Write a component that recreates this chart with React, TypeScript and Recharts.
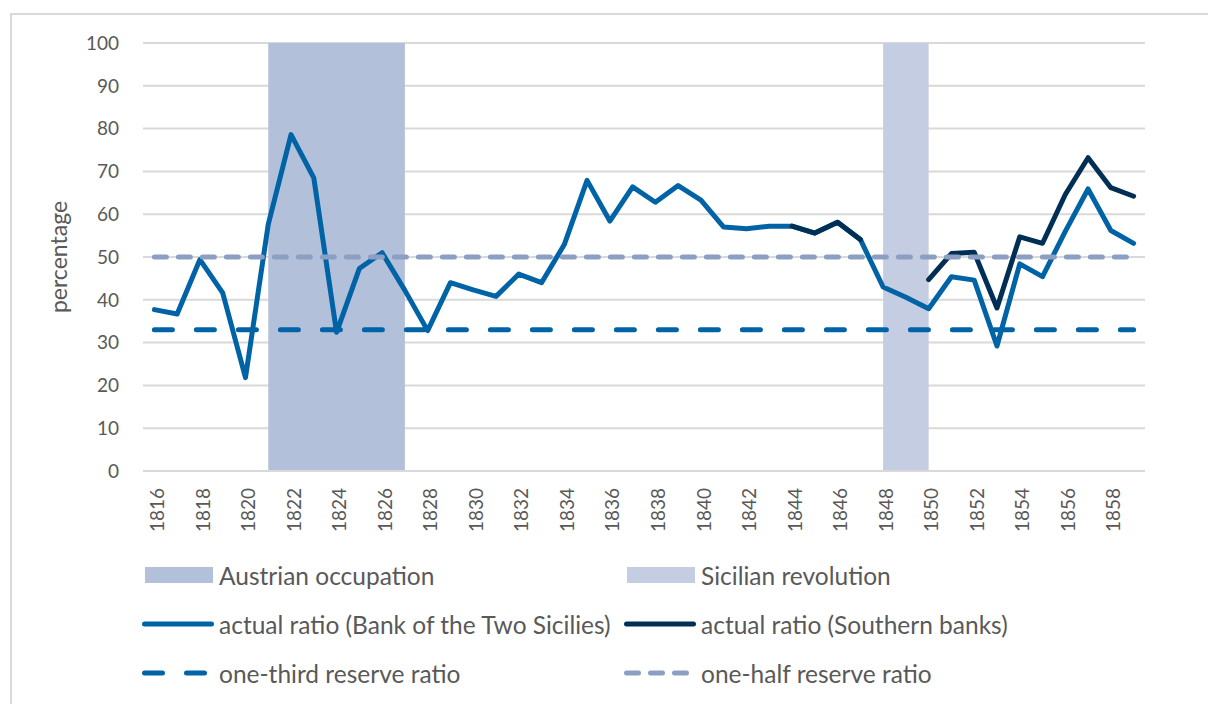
import { CartesianGrid, Label, Line, LineChart, ReferenceArea, XAxis, YAxis } from "recharts";

const years = [
  1816, 1817, 1818, 1819, 1820, 1821, 1822, 1823, 1824, 1825, 1826, 1827, 1828, 1829, 1830,
  1831, 1832, 1833, 1834, 1835, 1836, 1837, 1838, 1839, 1840, 1841, 1842, 1843, 1844, 1845,
  1846, 1847, 1848, 1849, 1850, 1851, 1852, 1853, 1854, 1855, 1856, 1857, 1858, 1859,
];

// actual reserve ratio, Bank of the Two Sicilies (%)
const bankRatio = [
  37.7, 36.7, 49.4, 41.6, 21.8, 57.6, 78.6, 68.5, 32.4, 47.3, 51.0, 42.2, 32.8, 44.0, 42.3,
  40.8, 46.0, 44.0, 52.9, 67.9, 58.4, 66.4, 62.8, 66.7, 63.3, 57.0, 56.6, 57.2, 57.2, 55.6,
  58.1, 54.1, 43.0, 40.6, 37.9, 45.4, 44.6, 29.2, 48.4, 45.4, 56.0, 65.9, 56.2, 53.2,
];

// actual reserve ratio, Southern banks (%)
const southernYears = [1844, 1845, 1846, 1847, 1850, 1851, 1852, 1853, 1854, 1855, 1856, 1857, 1858, 1859];
const southernRatio = [57.2, 55.6, 58.1, 54.1, 44.7, 50.8, 51.1, 38.1, 54.7, 53.2, 64.6, 73.2, 66.2, 64.2];

const oneThirdRatio = 33;
const oneHalfRatio = 50;

const austrianOccupation = [1821, 1827];
const sicilianRevolution = [1848, 1850];

const yearTicks = [
  1816, 1818, 1820, 1822, 1824, 1826, 1828, 1830, 1832, 1834, 1836, 1838, 1840, 1842, 1844,
  1846, 1848, 1850, 1852, 1854, 1856, 1858,
];
const percentTicks = [0, 10, 20, 30, 40, 50, 60, 70, 80, 90, 100];

const BLUE = "#0063a6";
const NAVY = "#002f56";
const HALF = "#8c9fc3";
const AUSTRIA = "#b3c0da";
const SICILY = "#c4cde1";
const GRID = "#d9d9d9";
const TEXT = "#595959";
const FONT = "Lato, 'Source Sans Pro', sans-serif";

const rows = years.map((year, i) => {
  const j = southernYears.indexOf(year);
  return {
    year,
    bank: bankRatio[i],
    southern: j >= 0 ? southernRatio[j] : null,
    third: oneThirdRatio,
    half: oneHalfRatio,
  };
});

type LegendItem = { label: string; kind: "area" | "line" | "dash"; color: string; dash?: string };

const legendItems: LegendItem[] = [
  { label: "Austrian occupation", kind: "area", color: AUSTRIA },
  { label: "Sicilian revolution", kind: "area", color: SICILY },
  { label: "actual ratio (Bank of the Two Sicilies)", kind: "line", color: BLUE },
  { label: "actual ratio (Southern banks)", kind: "line", color: NAVY },
  { label: "one-third reserve ratio", kind: "dash", color: BLUE, dash: "18 24" },
  { label: "one-half reserve ratio", kind: "dash", color: HALF, dash: "12 12" },
];

function YearTick({ x, y, payload }: any) {
  return (
    <text
      transform={`translate(${x + 3},${y + 9}) rotate(-90)`}
      textAnchor="end"
      dy="0.35em"
      fill={TEXT}
      fontSize={19}
      fontFamily={FONT}
    >
      {payload.value}
    </text>
  );
}

function Swatch({ item }: { item: LegendItem }) {
  return (
    <svg width={74} height={20} style={{ display: "block" }}>
      {item.kind === "area" ? (
        <rect x={4} y={2} width={68} height={16} fill={item.color} />
      ) : (
        <line
          x1={3.5}
          x2={70.5}
          y1={10}
          y2={10}
          stroke={item.color}
          strokeWidth={5}
          strokeLinecap="round"
          strokeDasharray={item.dash}
        />
      )}
    </svg>
  );
}

function ChartLegend() {
  return (
    <div style={{ position: "absolute", left: 141, top: 561, width: 1000, fontFamily: FONT }}>
      {[0, 2, 4].map((r) => (
        <div key={r} style={{ display: "flex", height: 49 }}>
          {[legendItems[r], legendItems[r + 1]].map((item) => (
            <div key={item.label} style={{ display: "flex", alignItems: "center", width: 482, height: 28 }}>
              <Swatch item={item} />
              <span style={{ marginLeft: 4, fontSize: 24.5, color: TEXT, whiteSpace: "nowrap" }}>{item.label}</span>
            </div>
          ))}
        </div>
      ))}
    </div>
  );
}

export default function App() {
  return (
    <div style={{ position: "absolute", left: 0, top: 0, width: 1208, height: 704, overflow: "hidden", background: "#fff" }}>
      <div
        style={{
          position: "absolute",
          left: 10,
          top: 13,
          width: 1400,
          height: 900,
          border: `2px solid ${GRID}`,
        }}
      />
      <div style={{ position: "absolute", left: 0, top: 0 }}>
        <LineChart
          width={1208}
          height={704}
          data={rows}
          margin={{ top: 43, right: 63, bottom: 173, left: 0 }}
          style={{ fontFamily: FONT }}
        >
          <CartesianGrid vertical={false} stroke={GRID} strokeWidth={2} />
          <XAxis
            dataKey="year"
            type="number"
            domain={[1815.5, 1859.5]}
            ticks={yearTicks}
            interval={0}
            height={60}
            tick={<YearTick />}
            tickLine={false}
            axisLine={{ stroke: GRID, strokeWidth: 2 }}
            allowDataOverflow
          />
          <YAxis
            type="number"
            domain={[0, 100]}
            ticks={percentTicks}
            width={143}
            tickLine={false}
            axisLine={false}
            tickMargin={18}
            tick={{ fill: TEXT, fontSize: 19, fontFamily: FONT }}
          >
            <Label
              content={() => (
                <text
                  transform="translate(67,257) rotate(-90)"
                  textAnchor="middle"
                  fill={TEXT}
                  fontSize={23}
                  fontFamily={FONT}
                >
                  percentage
                </text>
              )}
            />
          </YAxis>
          <ReferenceArea
            x1={austrianOccupation[0]}
            x2={austrianOccupation[1]}
            y1={0}
            y2={100}
            fill={AUSTRIA}
            fillOpacity={1}
            stroke="none"
          />
          <ReferenceArea
            x1={sicilianRevolution[0]}
            x2={sicilianRevolution[1]}
            y1={0}
            y2={100}
            fill={SICILY}
            fillOpacity={1}
            stroke="none"
          />
          <Line
            dataKey="bank"
            stroke={BLUE}
            strokeWidth={5}
            strokeLinejoin="round"
            strokeLinecap="round"
            dot={false}
            activeDot={false}
            isAnimationActive={false}
          />
          <Line
            dataKey="southern"
            stroke={NAVY}
            strokeWidth={5}
            strokeLinejoin="round"
            strokeLinecap="round"
            dot={false}
            activeDot={false}
            connectNulls={false}
            isAnimationActive={false}
          />
          <Line
            dataKey="third"
            stroke={BLUE}
            strokeWidth={5}
            strokeLinecap="round"
            strokeDasharray="18 24"
            dot={false}
            activeDot={false}
            isAnimationActive={false}
          />
          <Line
            dataKey="half"
            stroke={HALF}
            strokeWidth={5}
            strokeLinecap="round"
            strokeDasharray="12 12"
            dot={false}
            activeDot={false}
            isAnimationActive={false}
          />
        </LineChart>
      </div>
      <ChartLegend />
    </div>
  );
}
